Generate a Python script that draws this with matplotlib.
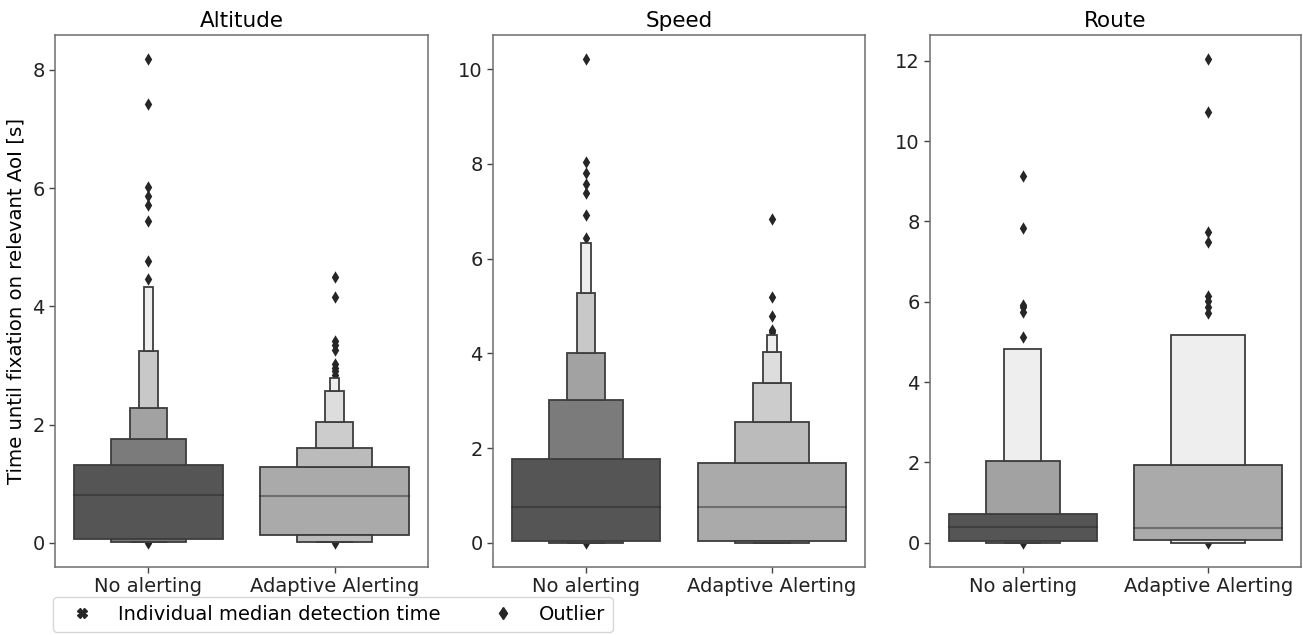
import numpy as np
import matplotlib
matplotlib.use("Agg")
import matplotlib.pyplot as plt
from matplotlib.lines import Line2D
from matplotlib.colors import to_rgb
from matplotlib.ticker import MultipleLocator

# ---- data -------------------------------------------------------------
panels = ["Altitude", "Speed", "Route"]
conditions = ["No alerting", "Adaptive Alerting"]

# letter-value box edges (innermost box first), medians and outliers
alt_na_upper = [1.32, 1.76, 2.28, 3.24, 4.32]
alt_na_lower = [0.07, 0.02, 0.02, 0.02, 0.02]
alt_na_median = 0.815
alt_na_outliers = [8.18, 7.43, 6.02, 5.87, 5.72, 5.45, 4.77, 4.47, 0.0]

alt_aa_upper = [1.28, 1.60, 2.04, 2.56, 2.79]
alt_aa_lower = [0.13, 0.02, 0.02, 0.02, 0.02]
alt_aa_median = 0.80
alt_aa_outliers = [4.50, 4.16, 3.41, 3.34, 3.26, 3.02, 2.96, 2.90, 2.84, 0.0]

spd_na_upper = [1.76, 3.01, 4.01, 5.28, 6.32]
spd_na_lower = [0.03, 0.0, 0.0, 0.0, 0.0]
spd_na_median = 0.75
spd_na_outliers = [10.21, 8.03, 7.80, 7.57, 7.38, 6.91, 6.44, 0.0]

spd_aa_upper = [1.68, 2.56, 3.37, 4.02, 4.39]
spd_aa_lower = [0.03, 0.0, 0.0, 0.0, 0.0]
spd_aa_median = 0.75
spd_aa_outliers = [6.84, 5.19, 4.78, 4.50, 4.45]

rte_na_upper = [0.71, 2.04, 4.82]
rte_na_lower = [0.04, 0.0, 0.0]
rte_na_median = 0.39
rte_na_outliers = [9.13, 7.84, 5.93, 5.86, 5.75, 5.13, 0.0]

rte_aa_upper = [1.94, 5.17]
rte_aa_lower = [0.06, 0.0]
rte_aa_median = 0.36
rte_aa_outliers = [12.04, 10.72, 7.74, 7.50, 6.15, 6.02, 5.88, 5.72, 0.0]

panel_groups = [
    [(alt_na_upper, alt_na_lower, alt_na_median, alt_na_outliers),
     (alt_aa_upper, alt_aa_lower, alt_aa_median, alt_aa_outliers)],
    [(spd_na_upper, spd_na_lower, spd_na_median, spd_na_outliers),
     (spd_aa_upper, spd_aa_lower, spd_aa_median, spd_aa_outliers)],
    [(rte_na_upper, rte_na_lower, rte_na_median, rte_na_outliers),
     (rte_aa_upper, rte_aa_lower, rte_aa_median, rte_aa_outliers)],
]

# ---- style ------------------------------------------------------------
base_colors = ["#555555", "#aaaaaa"]
lightest = "#eeeeee"
edge_col = "#3d3d3d"
dark = "#262626"
box_width = 0.8


def level_colors(base, n):
    if n == 1:
        return [to_rgb(base)]
    a = np.array(to_rgb(base))
    b = np.array(to_rgb(lightest))
    return [tuple(a + (b - a) * t) for t in np.linspace(0, 1, n)]


W, H = 1303, 635
fig = plt.figure(figsize=(W / 100, H / 100), dpi=100)
axes_px = [(55, 428), (493, 865), (930, 1301)]
top_px, bottom_px = 35, 567

for p, (title, groups) in enumerate(zip(panels, panel_groups)):
    x0, x1 = axes_px[p]
    ax = fig.add_axes([x0 / W, (H - bottom_px) / H, (x1 - x0) / W,
                       (bottom_px - top_px) / H])
    for gi, (upper, lower, med, outl) in enumerate(groups):
        n = len(upper)
        cols = level_colors(base_colors[gi], n)
        for k in range(n):
            w = box_width / 2 ** k
            kw = dict(width=w, color=cols[k], edgecolor=edge_col,
                      linewidth=1.3, zorder=2)
            if k == 0:
                ax.bar(gi, upper[0] - lower[0], bottom=lower[0], **kw)
            else:
                ax.bar(gi, upper[k] - upper[k - 1], bottom=upper[k - 1], **kw)
                ax.bar(gi, lower[k - 1] - lower[k], bottom=lower[k], **kw)
        ax.plot([gi - box_width / 2, gi + box_width / 2], [med, med],
                color=".15", alpha=.45, linewidth=1.5, zorder=3)
        ax.scatter(np.full(len(outl), gi), outl, marker="d", s=40,
                   color=dark, linewidths=0, zorder=1)

    ax.use_sticky_edges = False
    ax.margins(y=0.05)
    ax.set_xlim(-0.5, 1.5)
    ax.yaxis.set_major_locator(MultipleLocator(2))
    ax.set_xticks([0, 1])
    ax.set_xticklabels(conditions)
    ax.set_title(title, fontsize=15.5, pad=6)
    for s in ax.spines.values():
        s.set_color("#6e6e6e")
        s.set_linewidth(1.1)
    ax.tick_params(length=4, width=1, color="#444444", labelsize=14,
                   labelcolor="#222222")
    if p == 0:
        ax.set_ylabel("Time until fixation on relevant AoI [s]", fontsize=14.2,
                      labelpad=5)

handles = [
    Line2D([], [], linestyle="none", marker="X", markersize=6.5, color=dark),
    Line2D([], [], linestyle="none", marker="d", markersize=6.5, color=dark),
]
labels = ["Individual median detection time", "Outlier"]
fig.legend(handles, labels, loc="upper left",
           bbox_to_anchor=(53 / W, 1 - 597 / H), ncol=2, fontsize=14,
           handlelength=2.2, handletextpad=0.75, columnspacing=2.1,
           borderaxespad=0, borderpad=0.4)

fig.savefig("out.png", dpi=100)
